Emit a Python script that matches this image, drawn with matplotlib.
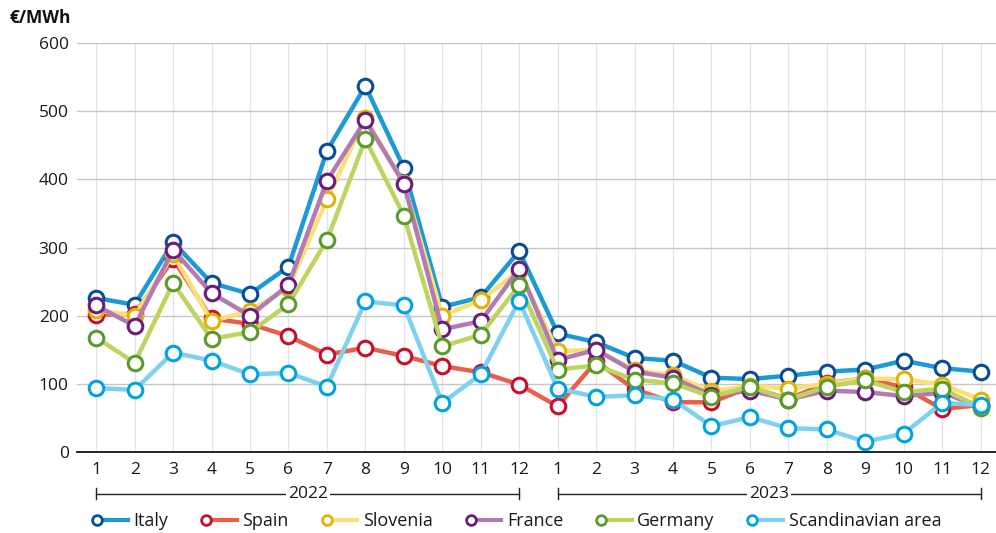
import matplotlib
matplotlib.use("Agg")
import matplotlib.pyplot as plt
from matplotlib.lines import Line2D
from matplotlib.legend_handler import HandlerBase
import matplotlib.transforms as mtransforms

plt.rcParams['font.family'] = ['Open Sans', 'DejaVu Sans']

months = [str(m) for m in range(1, 13)] * 2
years = ["2022", "2023"]

italy = [226, 216, 308, 248, 232, 272, 442, 537, 417, 213, 227, 295,
         174, 161, 138, 134, 109, 107, 112, 118, 121, 134, 123, 118]
spain = [201, 203, 283, 196, 188, 170, 143, 153, 141, 126, 117, 99,
         67, 133, 92, 73, 73, 95, 78, 101, 108, 95, 63, 69]
slovenia = [208, 200, 290, 192, 207, 241, 371, 490, 395, 200, 223, 266,
            148, 150, 120, 113, 89, 97, 93, 100, 108, 107, 99, 77]
france = [215, 185, 297, 233, 200, 245, 398, 487, 394, 180, 192, 269,
          135, 150, 118, 109, 83, 90, 77, 90, 88, 82, 87, 67]
germany = [168, 131, 248, 166, 176, 217, 311, 459, 347, 155, 172, 245,
           121, 127, 106, 101, 81, 96, 77, 96, 105, 88, 93, 65]
scandinavia = [94, 91, 146, 134, 114, 116, 96, 221, 215, 72, 114, 222,
               93, 81, 83, 77, 38, 51, 35, 33, 15, 27, 72, 69]

series = [
    ("Italy", italy, "#1b9ad6", "#0b4d94"),
    ("Spain", spain, "#e8604c", "#c8102e"),
    ("Slovenia", slovenia, "#fbe07a", "#e0b400"),
    ("France", france, "#b27bb4", "#6a1d7a"),
    ("Germany", germany, "#bdd45e", "#5c9a2c"),
    ("Scandinavian area", scandinavia, "#80d0f0", "#00a3de"),
]

fig = plt.figure(figsize=(9.96, 5.33), dpi=100)
ax = fig.add_axes([0.0773, 0.152, 0.9227, 0.767])

x = list(range(len(months)))
for name, vals, lc, mc in series:
    ax.plot(x, vals, color=lc, lw=3.2, marker='o', ms=10.5, mfc='white',
            mec=mc, mew=2.2, label=name, clip_on=False, zorder=3)

ax.set_ylim(0, 600)
ax.set_xlim(-0.5, 23.4)
ax.set_yticks(range(0, 601, 100))
ax.set_xticks(x)
ax.set_xticklabels(months)
ax.tick_params(axis='both', length=0, labelsize=12.5, colors='#1a1a1a')
ax.tick_params(axis='x', pad=7)
ax.tick_params(axis='y', pad=6)
for sp in ['left', 'right', 'top']:
    ax.spines[sp].set_visible(False)
ax.spines['bottom'].set_color('#111111')
ax.spines['bottom'].set_linewidth(1.3)
ax.spines['bottom'].set_zorder(4)

for v in range(100, 601, 100):
    ax.axhline(v, color='#c6c6c6', lw=1.0, zorder=1)
for xi in x:
    ax.axvline(xi, color='#e2e2e2', lw=0.9, zorder=0.5)

# year brackets
trans = mtransforms.blended_transform_factory(ax.transData, ax.transAxes)
yb = -0.102
for i, yr in enumerate(years):
    x0, x1 = i * 12, i * 12 + 11
    ax.plot([x0, x1], [yb, yb], transform=trans, color='#222222', lw=1.0,
            clip_on=False)
    for xe in (x0, x1):
        ax.plot([xe, xe], [yb - 0.014, yb + 0.014], transform=trans,
                color='#222222', lw=1.0, clip_on=False)
    ax.text((x0 + x1) / 2, yb, yr, transform=trans, ha='center', va='center',
            fontsize=12.5, color='#1a1a1a',
            bbox=dict(facecolor='white', edgecolor='none', pad=1.5))

fig.text(0.010, 0.966, "€/MWh", fontsize=12.5, fontweight='bold',
         color='#111111', ha='left', va='center')


class MarkerFirstHandler(HandlerBase):
    def create_artists(self, legend, orig, xdescent, ydescent, width, height,
                       fontsize, trans):
        y = height / 2 - ydescent
        x0 = -xdescent + 4.5
        line = Line2D([x0, -xdescent + width], [y, y],
                      color=orig.get_color(), lw=3.0, transform=trans)
        mk = Line2D([x0], [y], marker='o', ms=7, mfc='white',
                    mec=orig.get_markeredgecolor(), mew=2.0, ls='none',
                    transform=trans)
        return [line, mk]


handles, labels = ax.get_legend_handles_labels()
leg = fig.legend(handles, labels, loc='center left', ncol=6,
                 bbox_to_anchor=(0.0915, 0.0225), frameon=False,
                 handler_map={Line2D: MarkerFirstHandler()},
                 handlelength=2.05, handletextpad=0.3, columnspacing=1.75,
                 fontsize=13, borderaxespad=0, borderpad=0)
for t in leg.get_texts():
    t.set_color('#1a1a1a')

fig.savefig("out.png", dpi=100)
